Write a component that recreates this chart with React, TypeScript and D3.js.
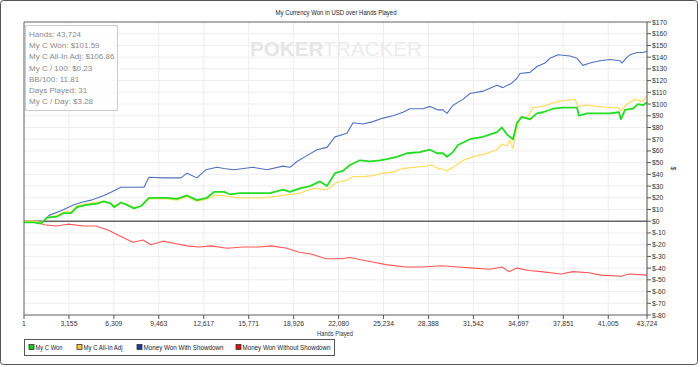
import * as d3 from 'd3';

const W = 700;
const H = 367;
const FONT = '"Liberation Sans", Arial, sans-serif';

const xTicks = [1, 3155, 6309, 9463, 12617, 15771, 18926, 22080, 25234, 28388, 31542, 34697, 37851, 41005, 43724];
const yTicks = d3.range(-80, 171, 10);

const statLines = [
  'Hands: 43,724',
  'My C Won: $101.59',
  'My C All-In Adj: $106.86',
  'My C / 100: $0.23',
  'BB/100: 11.81',
  'Days Played: 31',
  'My C / Day: $3.28',
];

// Money Won With Showdown
const sdHands = [1, 912, 1404, 1755, 2597, 3509, 4000, 4702, 5614, 6316, 6807, 7720, 8422, 8773, 9825, 11018, 11439, 12141, 12773, 13545, 14036, 14738, 16071, 17054, 18177, 18668, 19159, 19861, 20563, 21265, 21826, 22668, 23089, 23791, 24493, 25195, 25896, 26598, 27089, 28002, 28493, 29055, 29405, 29686, 30107, 30809, 31300, 32213, 33195, 33616, 34247, 34598, 34809, 35511, 36002, 36564, 36915, 37476, 38318, 38810, 39231, 39722, 40424, 41125, 41827, 41967, 42318, 42529, 43020, 43441, 43724];
const sdValues = [0, 0, 0, 5, 9, 14, 16, 18, 22, 26, 29, 29, 29, 37.5, 37, 37, 41, 37, 44, 46, 45, 44, 46, 44, 47, 46, 51, 56, 61, 63, 72, 75, 84, 83, 85, 88, 90, 93, 96, 96, 98, 95, 95, 92, 99, 104, 109, 111, 116, 114, 118, 122, 126, 127, 132, 135, 139, 142, 141, 139, 133, 135, 137, 138, 137, 135, 140, 142, 144, 144, 145];

// My C Won
const wonHands = [1, 702, 1193, 1614, 2316, 2807, 3298, 3720, 4421, 5123, 5614, 6106, 6316, 6807, 7229, 7720, 8211, 8773, 9334, 10036, 10738, 11439, 12141, 12843, 13334, 14036, 14457, 15159, 16071, 17264, 18177, 18668, 19370, 20071, 20773, 21265, 21826, 22387, 22879, 23580, 24282, 24984, 25475, 26177, 26879, 27791, 28493, 28984, 29405, 29686, 30107, 30458, 31300, 32213, 33195, 33546, 33897, 34318, 34598, 34949, 35511, 36002, 36423, 37125, 37827, 38810, 38950, 39511, 40213, 41125, 41757, 41897, 42178, 42739, 43090, 43441, 43724];
const wonValues = [-1, -1, -2, 3, 4, 7, 7, 12, 14, 15, 17, 15, 12, 16, 14, 11, 13, 20, 20, 20, 19, 22, 18, 20, 25, 25, 23, 24, 24, 24, 27, 25, 28, 30, 34, 30, 41, 43, 48, 52, 51, 52, 53, 55, 58, 59, 61, 58, 58, 55, 59, 65, 70, 72, 76, 80, 74, 70, 84, 89, 87, 92, 93, 96, 97, 97, 90, 92, 92, 92, 93, 87, 95, 96, 100, 99, 101.59];

// My C All-In Adj
const adjHands = [1, 702, 1193, 1614, 2316, 2807, 3298, 3720, 4421, 5123, 5614, 6106, 6316, 6807, 7229, 7720, 8211, 8773, 9334, 10036, 10738, 11439, 12141, 12843, 13334, 13755, 15159, 16773, 18177, 19370, 20282, 21265, 21966, 22668, 23089, 23791, 24493, 25195, 25896, 26598, 27300, 28283, 28634, 29055, 29195, 29686, 30107, 30809, 31511, 32493, 33195, 33546, 33897, 34107, 34318, 34458, 34809, 35300, 35721, 36423, 37125, 37827, 38669, 38880, 39511, 40213, 41125, 41757, 41897, 42318, 42880, 43371, 43724];
const adjValues = [0, 0, -1, 3, 5, 8, 8, 13, 15, 16, 17, 15, 13, 16, 14, 11, 13, 19, 19, 19, 18, 21, 17, 19, 22, 22, 20, 20, 22, 24, 28, 27, 33, 35, 38, 38, 39, 41, 42, 45, 46, 47, 48, 45, 45, 43, 46, 52, 55, 58, 61, 66, 64, 69, 62, 72, 89, 88, 97, 98, 101, 103, 104, 98, 99, 98, 97, 97, 94, 100, 104, 102, 106.86];

// Money Won Without Showdown
const nsdHands = [1, 912, 1404, 2246, 3088, 4211, 5053, 5895, 6737, 7650, 8351, 8913, 9755, 10597, 11439, 12282, 13124, 14247, 15369, 16492, 17334, 18457, 19300, 20142, 21194, 22317, 22879, 23720, 24563, 25405, 26809, 27932, 29335, 30458, 31581, 32704, 33546, 34037, 34598, 35441, 36283, 37687, 38529, 39652, 40494, 41897, 42459, 43724];
const nsdValues = [0, 0, -3, -4, -2.5, -4, -4, -7.5, -12.5, -18, -16, -20, -17, -19, -21, -22, -21, -23, -22, -22, -21, -23, -26.5, -28, -32, -32, -31, -33, -35, -37, -39, -39, -38, -39, -40, -41, -39, -43, -40, -42, -43, -45, -43, -44, -46, -47, -45, -46];

const series = [
  { name: 'My C Won', hands: wonHands, values: wonValues, color: '#22dd22', width: 1.8, swatch: '#11cc11' },
  { name: 'My C All-In Adj', hands: adjHands, values: adjValues, color: '#ffdd66', width: 1.3, swatch: '#ffcc22' },
  { name: 'Money Won With Showdown', hands: sdHands, values: sdValues, color: '#5070c0', width: 1.1, swatch: '#1a3a99' },
  { name: 'Money Won Without Showdown', hands: nsdHands, values: nsdValues, color: '#ff5555', width: 1.1, swatch: '#e01010' },
];

const legendX = [29, 77, 137, 236];
const legendW = [27, 39, 80, 88];

export default function App() {
  const left = 24;
  const right = 647;
  const top = 22;
  const bottom = 315;

  const x = d3.scaleLinear().domain([1, 43724]).range([left, right]);
  const y = d3.scaleLinear().domain([-80, 170]).range([bottom, top]);

  const fmtY = (v: number) => (v < 0 ? `$-${Math.abs(v)}` : `$${v}`);
  const fmtX = d3.format(',');

  const drawOrder = [2, 3, 1, 0];

  return (
    <svg width={W} height={H} style={{ position: 'absolute', left: 0, top: 0 }} fontFamily={FONT}>
      <rect x={0} y={0} width={W} height={H} fill="#fff" />
      <rect x={0.5} y={0.5} width={W - 3} height={H - 3} rx={3} fill="none" stroke="#555" strokeWidth={1} />

      <text x={(left + right) / 2 - 60} y={15} fontSize={7.4} fill="#222" textLength={121} lengthAdjust="spacingAndGlyphs">
        My Currency Won in USD over Hands Played
      </text>

      {/* grid */}
      {yTicks.map(v => (
        <line key={'gy' + v} x1={left} x2={right} y1={y(v)} y2={y(v)} stroke="#eeeeee" />
      ))}
      {xTicks.map(v => (
        <line key={'gx' + v} x1={x(v)} x2={x(v)} y1={top} y2={bottom} stroke="#eeeeee" />
      ))}

      {/* watermark */}
      <text x={250} y={56} fontSize={20.5} fill="#e6e6e6" textLength={172} lengthAdjust="spacingAndGlyphs">
        <tspan fontWeight="bold">POKER</tspan>
        <tspan fill="#ececec">TRACKER</tspan>
      </text>

      {/* stats box */}
      <rect x={25.5} y={25.5} width={92} height={85} fill="#fff" fillOpacity={0.85} stroke="#cccccc" />
      {statLines.map((s, i) => (
        <text key={s} x={29} y={37 + i * 11.2} fontSize={8} fill="#8a8a8a">
          {s}
        </text>
      ))}

      {/* zero line */}
      <line x1={left} x2={right} y1={y(0)} y2={y(0)} stroke="#666" strokeWidth={1.5} />

      {/* series */}
      {drawOrder.map(i => {
        const s = series[i];
        const pts = s.hands.map((h, k) => [h, s.values[k]] as [number, number]);
        const line = d3
          .line<[number, number]>()
          .x(d => x(d[0]))
          .y(d => y(d[1]));
        return (
          <path key={s.name} d={line(pts) ?? ''} fill="none" stroke={s.color} strokeWidth={s.width} strokeLinejoin="round" />
        );
      })}

      {/* frame */}
      <line x1={left} x2={right} y1={top} y2={top} stroke="#666" />
      <line x1={left} x2={left} y1={top} y2={bottom} stroke="#666" />
      <line x1={left} x2={right} y1={bottom} y2={bottom} stroke="#666" />
      <line x1={right} x2={right} y1={top} y2={bottom} stroke="#555" />

      {/* y axis (right) */}
      {yTicks.map(v => (
        <g key={'ty' + v}>
          <line x1={right} x2={right + 4} y1={y(v)} y2={y(v)} stroke="#555" />
          <text x={right + 5} y={y(v) + 2.5} fontSize={6.8} fill="#333">
            {fmtY(v)}
          </text>
        </g>
      ))}
      <text transform={`translate(671,${(top + bottom) / 2}) rotate(90)`} fontSize={7} textAnchor="middle" fill="#333">
        $
      </text>

      {/* x axis */}
      {xTicks.map(v => (
        <g key={'tx' + v}>
          <line x1={x(v)} x2={x(v)} y1={bottom} y2={bottom + 4} stroke="#555" />
          <text x={x(v)} y={bottom + 11} fontSize={6.8} textAnchor="middle" fill="#333">
            {fmtX(v)}
          </text>
        </g>
      ))}
      <text x={317} y={bottom + 21} fontSize={7} fill="#333" textLength={36} lengthAdjust="spacingAndGlyphs">
        Hands Played
      </text>

      {/* legend */}
      <rect x={24.5} y={339.5} width={310} height={16} fill="#fff" stroke="#555" />
      {series.map((s, i) => (
        <g key={'lg' + s.name}>
          <rect x={legendX[i]} y={344.5} width={5} height={5} fill={s.swatch} stroke="#333" strokeWidth={0.8} />
          <text x={legendX[i] + 6.5} y={350} fontSize={7.2} fill="#222" textLength={legendW[i]} lengthAdjust="spacingAndGlyphs">
            {s.name}
          </text>
        </g>
      ))}
    </svg>
  );
}
